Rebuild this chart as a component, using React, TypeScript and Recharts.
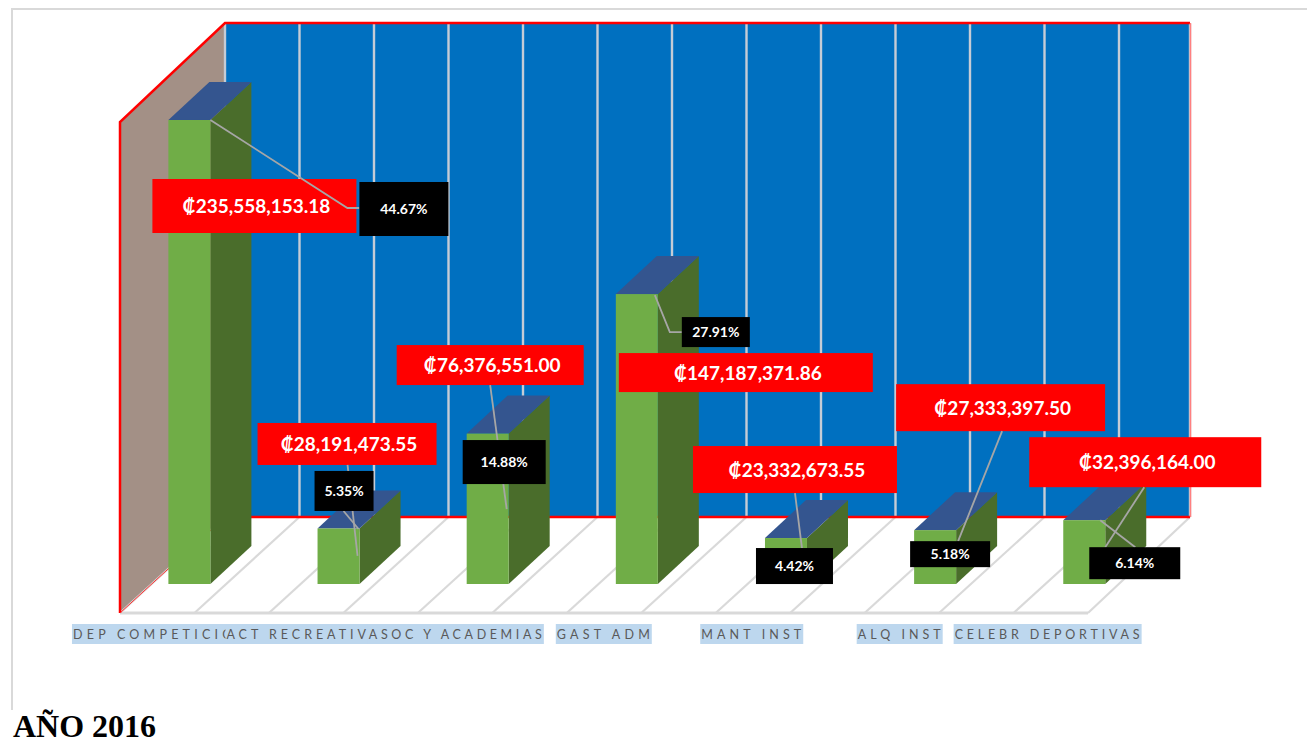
import React from 'react';
import { BarChart, Bar, XAxis, YAxis, LabelList } from 'recharts';

const categories = [
  'DEP COMPETICION',
  'ACT RECREATIVAS',
  'ASOC Y ACADEMIAS',
  'GAST ADM',
  'MANT INST',
  'ALQ INST',
  'CELEBR DEPORTIVAS',
];
const amounts = [235558153.18, 28191473.55, 76376551.0, 147187371.86, 23332673.55, 27333397.5, 32396164.0];
const shares = [44.67, 5.35, 14.88, 27.91, 4.42, 5.18, 6.14];

const data = categories.map((name, i) => ({ name, amount: amounts[i], share: shares[i] }));

// callout placement, relative to the top-left corner of each bar's front face
type Box = [number, number, number, number];
const redBoxes: Box[] = [
  [-16, 59, 204, 54],
  [-60, -105.5, 179, 42],
  [-70, -88.5, 187, 40],
  [3, 59, 254, 39],
  [-72, -92, 204, 47],
  [-18, -146, 209, 47],
  [-34, -83, 232, 50],
];
const blackBoxes: Box[] = [
  [191, 62, 89, 54],
  [-3, -57.5, 59, 40],
  [-4, 6.5, 83, 44],
  [66, 23, 68, 30],
  [-9, 10, 77, 36],
  [-4, 11, 80, 26],
  [26, 27, 91, 32],
];
const leaders: number[][][] = [
  [[42, 0], [179, 88], [191, 88]],
  [[40, 27.5], [30, -63.5]],
  [[40, 75.5], [23.5, -48.5]],
  [[39, 1], [54, 38], [66, 38]],
  [[37, 10], [30, -45]],
  [[44, 11], [88, -99]],
  [[42, 27], [81, -33]],
];
const extraLeaders: number[][][] = [[], [[41, 0.5], [26, -17.5]], [], [], [], [], [[37, 0], [72, 27]]];
const tickWidths = [176, 165, 176, 96, 103, 86, 188];

const DEPTH_X = 41;
const DEPTH_Y = 38;
const FONT = 'Lato, "Open Sans", sans-serif';

const Walls = () => {
  const back = Array.from({ length: 14 }, (_, i) => i);
  const wallX = (i: number) => Math.min(225 + i * 74.5, 1190);
  return (
    <svg width={1307} height={744} style={{ position: 'absolute', left: 0, top: 0 }}>
      <path d="M12 710 V9 H1307" fill="none" stroke="#d9d9d9" strokeWidth={2} />
      <polygon points="225,23 1190,23 1190,517 225,517" fill="#0070c0" />
      <polygon points="120,122 225,23 225,517 120,613" fill="#a39086" />
      {back.map((i) => (
        <line key={i} x1={wallX(i)} y1={24} x2={wallX(i)} y2={517} stroke="#c5ccd6" strokeWidth={2.4} />
      ))}
      {back.map((i) => (
        <line
          key={i}
          x1={wallX(i)}
          y1={517}
          x2={120 + i * 74.46}
          y2={613}
          stroke="#d9d9d9"
          strokeWidth={2.2}
        />
      ))}
      <line x1={120} y1={613} x2={1088} y2={613} stroke="#d9d9d9" strokeWidth={3} />
      <path d="M120 613 V122 L225 23 H1190" fill="none" stroke="#ff0000" strokeWidth={2.5} />
      <line x1={225} y1={517} x2={120} y2={613} stroke="#ff3030" strokeWidth={1} />
      <line x1={225} y1={517} x2={1190} y2={517} stroke="#ff0000" strokeWidth={2.5} />
      <line x1={1190.5} y1={23} x2={1190.5} y2={517} stroke="#ff8080" strokeWidth={1.5} />
    </svg>
  );
};

const Bar3D = (props: any) => {
  const { x, y, width, height } = props;
  const r = x + width;
  const b = y + height;
  return (
    <g>
      <polygon
        points={`${r},${y} ${r + DEPTH_X},${y - DEPTH_Y} ${r + DEPTH_X},${b - DEPTH_Y} ${r},${b}`}
        fill="#4a6d2b"
      />
      <polygon
        points={`${x},${y} ${x + DEPTH_X},${y - DEPTH_Y} ${r + DEPTH_X},${y - DEPTH_Y} ${r},${y}`}
        fill="#34558f"
      />
      <rect x={x} y={y} width={width} height={height} fill="#70ad47" />
    </g>
  );
};

const CategoryTick = (props: any) => {
  const { x, payload, index } = props;
  const w = tickWidths[index];
  const cx = x - 29 - index * 1.2;
  return (
    <g>
      <rect x={cx - w / 2} y={624} width={w} height={20} fill="#bdd7ee" />
      <text
        x={cx - w / 2 + 1}
        y={639}
        fontFamily={FONT}
        fontSize={12.5}
        fill="#595959"
        textLength={w - 3}
        lengthAdjust="spacing"
      >
        {payload.value}
      </text>
    </g>
  );
};

const RedCallout = (props: any) => {
  const { viewBox, index } = props;
  const [dx, dy, w, h] = redBoxes[index];
  const text =
    '₡' + amounts[index].toLocaleString('en-US', { minimumFractionDigits: 2, maximumFractionDigits: 2 });
  return (
    <g>
      <rect x={viewBox.x + dx} y={viewBox.y + dy} width={w} height={h} fill="#ff0000" />
      <text
        x={viewBox.x + dx + w / 2 + 2}
        y={viewBox.y + dy + h / 2 + 7}
        textAnchor="middle"
        fontFamily={FONT}
        fontWeight={700}
        fontSize={19}
        fill="#ffffff"
      >
        {text}
      </text>
    </g>
  );
};

const Leaders = (props: any) => {
  const { viewBox, index } = props;
  const toPoints = (pts: number[][]) => pts.map((p) => `${viewBox.x + p[0]},${viewBox.y + p[1]}`).join(' ');
  return (
    <g>
      <polyline points={toPoints(leaders[index])} fill="none" stroke="#a6a6a6" strokeWidth={1.8} />
      {extraLeaders[index].length > 0 && (
        <polyline points={toPoints(extraLeaders[index])} fill="none" stroke="#a6a6a6" strokeWidth={1.8} />
      )}
    </g>
  );
};

const BlackCallout = (props: any) => {
  const { viewBox, index } = props;
  const [dx, dy, w, h] = blackBoxes[index];
  return (
    <g>
      <rect x={viewBox.x + dx} y={viewBox.y + dy} width={w} height={h} fill="#000000" />
      <text
        x={viewBox.x + dx + w / 2}
        y={viewBox.y + dy + h / 2 + 5}
        textAnchor="middle"
        fontFamily={FONT}
        fontWeight={700}
        fontSize={14}
        fill="#ffffff"
      >
        {shares[index].toFixed(2)}%
      </text>
    </g>
  );
};

export default function App() {
  return (
    <div style={{ position: 'absolute', left: 0, top: 0, width: 1307, height: 744, overflow: 'hidden', background: '#fff' }}>
      <Walls />
      <div style={{ position: 'absolute', left: 0, top: 0 }}>
        <BarChart
          width={1307}
          height={744}
          data={data}
          margin={{ top: 91.55, right: 148.6, bottom: 100, left: 114.4 }}
        >
          <XAxis
            dataKey="name"
            interval={0}
            height={60}
            axisLine={false}
            tickLine={false}
            tick={<CategoryTick />}
          />
          <YAxis hide domain={[0, 250000000]} />
          <Bar dataKey="amount" barSize={42} shape={<Bar3D />} isAnimationActive={false}>
            <LabelList dataKey="amount" content={<RedCallout />} />
            <LabelList dataKey="amount" content={<Leaders />} />
            <LabelList dataKey="share" content={<BlackCallout />} />
          </Bar>
        </BarChart>
      </div>
      <div
        style={{
          position: 'absolute',
          left: 13,
          top: 708,
          fontFamily: '"Liberation Serif", serif',
          fontWeight: 700,
          fontSize: 32,
          color: '#000',
          lineHeight: '36px',
        }}
      >
        AÑO 2016
      </div>
    </div>
  );
}
